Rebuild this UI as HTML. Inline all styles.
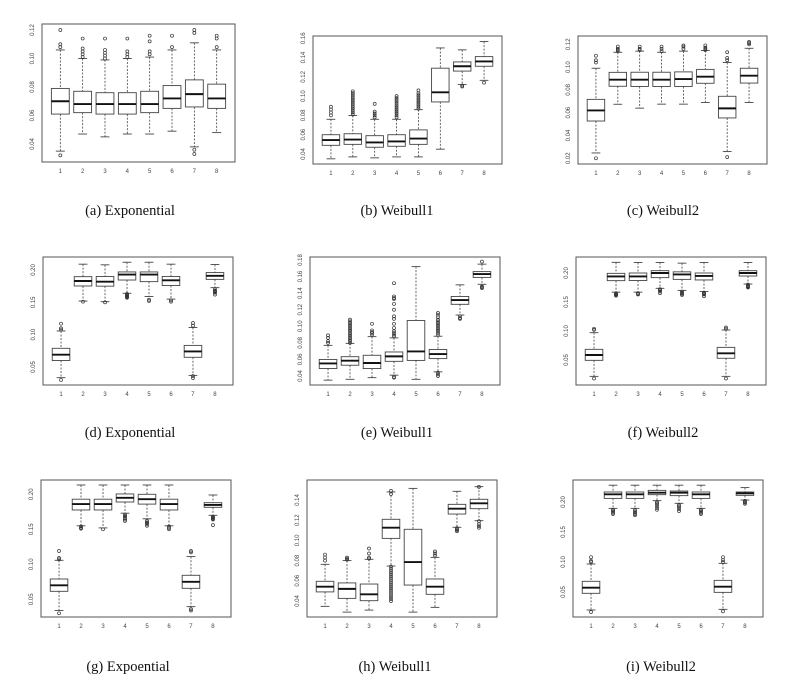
<!DOCTYPE html>
<html><head><meta charset="utf-8">
<style>
html,body{margin:0;padding:0;background:#fff;}
svg{display:block;}
.tick{font-family:"Liberation Sans",sans-serif;font-size:6px;fill:#444;}
.cap{font-family:"Liberation Serif",serif;font-size:14.5px;fill:#111;}
</style></head>
<body>
<svg id="fig" width="796" height="679" viewBox="0 0 796 679" xmlns="http://www.w3.org/2000/svg"></svg>
<script>
const categories = ["1","2","3","4","5","6","7","8"];
// each box: [whiskerLow, q1, median, q3, whiskerHigh]
const aStats = [[0.035,0.061,0.070,0.079,0.106],[0.047,0.062,0.068,0.077,0.100],[0.045,0.061,0.068,0.076,0.099],[0.047,0.061,0.068,0.076,0.100],[0.047,0.062,0.068,0.077,0.101],[0.049,0.065,0.072,0.081,0.106],[0.038,0.066,0.075,0.085,0.111],[0.048,0.065,0.072,0.082,0.106]];
const aOut = [[0.032,0.108,0.110,0.120],[0.101,0.103,0.105,0.107,0.114],[0.100,0.102,0.104,0.106,0.114],[0.101,0.103,0.105,0.114],[0.103,0.105,0.112,0.116],[0.108,0.116],[0.033,0.036,0.118,0.120],[0.108,0.114,0.116]];
const aTicks = [0.04,0.06,0.08,0.10,0.12];

const bStats = [[0.035,0.049,0.0545,0.060,0.076],[0.037,0.050,0.055,0.061,0.080],[0.036,0.047,0.052,0.059,0.076],[0.037,0.048,0.053,0.060,0.076],[0.037,0.050,0.056,0.065,0.086],[0.045,0.094,0.104,0.129,0.150],[0.112,0.126,0.131,0.1355,0.148],[0.1164,0.131,0.136,0.141,0.1566]];
const bOut = [[0.080,0.083,0.086,0.089],[0.081,0.083,0.085,0.087,0.089,0.091,0.093,0.095,0.097,0.099,0.101,0.103,0.105],[0.078,0.080,0.082,0.084,0.092],[0.078,0.080,0.082,0.084,0.086,0.088,0.090,0.092,0.094,0.096,0.098,0.100],[0.087,0.089,0.091,0.093,0.095,0.097,0.099,0.101,0.103,0.106],[],[0.110,0.111],[0.114]];
const bTicks = [0.04,0.06,0.08,0.10,0.12,0.14,0.16];

const cStats = [[0.0247,0.0527,0.062,0.0717,0.099],[0.0674,0.0832,0.089,0.0954,0.113],[0.064,0.083,0.089,0.0955,0.114],[0.0675,0.083,0.089,0.0955,0.113],[0.0675,0.083,0.0895,0.0958,0.114],[0.069,0.0858,0.0916,0.098,0.1145],[0.0259,0.0554,0.0638,0.0744,0.104],[0.069,0.086,0.0925,0.099,0.1165]];
const cOut = [[0.020,0.104,0.106,0.110],[0.114,0.115,0.116,0.118],[0.115,0.116,0.118],[0.114,0.116,0.118],[0.116,0.118,0.119],[0.115,0.116,0.117,0.119],[0.021,0.106,0.108,0.113],[0.120,0.121,0.122]];
const cTicks = [0.02,0.04,0.06,0.08,0.10,0.12];

const dStats = [[0.0335,0.060,0.069,0.0789,0.1057],[0.152,0.1753,0.183,0.1897,0.209],[0.151,0.175,0.182,0.190,0.208],[0.164,0.1845,0.193,0.197,0.212],[0.159,0.182,0.193,0.197,0.212],[0.155,0.176,0.184,0.190,0.209],[0.037,0.065,0.074,0.0834,0.111],[0.1727,0.1855,0.191,0.196,0.2085]];
const dOut = [[0.030,0.108,0.110,0.117],[0.151],[0.150],[0.157,0.158,0.159,0.160,0.161,0.162,0.163],[0.152,0.154],[0.151,0.153],[0.033,0.036,0.114,0.118],[0.162,0.165,0.166,0.167,0.168,0.170]];
const dTicks = [0.05,0.10,0.15,0.20];

const eStats = [[0.035,0.049,0.0552,0.060,0.077],[0.036,0.053,0.0585,0.0633,0.0794],[0.038,0.049,0.0557,0.065,0.0875],[0.041,0.0577,0.0637,0.069,0.086],[0.036,0.0588,0.0697,0.107,0.172],[0.045,0.061,0.0665,0.072,0.088],[0.1136,0.1265,0.1317,0.136,0.150],[0.1507,0.159,0.163,0.166,0.175]];
const eOut = [[0.080,0.082,0.086,0.089],[0.080,0.082,0.084,0.086,0.088,0.090,0.092,0.094,0.096,0.098,0.100,0.102,0.104,0.106,0.108],[0.090,0.092,0.093,0.095,0.103],[0.038,0.039,0.088,0.090,0.092,0.094,0.098,0.103,0.109,0.112,0.120,0.127,0.133,0.134,0.136,0.152],[],[0.040,0.042,0.044,0.090,0.092,0.094,0.096,0.098,0.100,0.102,0.104,0.106,0.108,0.111,0.114,0.116],[0.109,0.110,0.112],[0.146,0.147,0.148,0.178]];
const eTicks = [0.04,0.06,0.08,0.10,0.12,0.14,0.16,0.18];

const fStats = [[0.0218,0.0494,0.0586,0.0684,0.0971],[0.167,0.1868,0.194,0.1994,0.2184],[0.167,0.187,0.194,0.200,0.218],[0.1736,0.192,0.200,0.204,0.218],[0.170,0.189,0.1975,0.202,0.217],[0.168,0.188,0.195,0.200,0.218],[0.0218,0.053,0.0615,0.0718,0.1017],[0.181,0.1948,0.200,0.204,0.218]];
const fOut = [[0.018,0.102,0.104],[0.161,0.162,0.163,0.164,0.165],[0.163,0.164,0.165],[0.165,0.168,0.170,0.171,0.172],[0.162,0.164,0.165,0.166,0.168],[0.160,0.163,0.164,0.165,0.166],[0.018,0.104,0.106],[0.175,0.176,0.177,0.178,0.180]];
const fTicks = [0.05,0.10,0.15,0.20];

const gStats = [[0.034,0.0614,0.070,0.079,0.1057],[0.155,0.1776,0.186,0.193,0.2133],[0.152,0.1776,0.186,0.193,0.2133],[0.173,0.189,0.195,0.2005,0.2133],[0.165,0.186,0.193,0.200,0.2133],[0.155,0.1776,0.186,0.193,0.2133],[0.0395,0.0657,0.075,0.0843,0.111],[0.170,0.1814,0.1848,0.188,0.199]];
const gOut = [[0.030,0.107,0.109,0.119],[0.151,0.152,0.154],[0.150],[0.162,0.164,0.166,0.168,0.169,0.171],[0.155,0.157,0.159,0.160,0.162],[0.150,0.152,0.154],[0.034,0.036,0.117,0.119],[0.156,0.164,0.165,0.166,0.167,0.168]];
const gTicks = [0.05,0.10,0.15,0.20];

const hStats = [[0.0347,0.049,0.0542,0.0595,0.0763],[0.029,0.0426,0.052,0.0579,0.080],[0.031,0.0403,0.0466,0.0568,0.0813],[0.0746,0.102,0.1126,0.1209,0.148],[0.029,0.0558,0.0786,0.111,0.1515],[0.0337,0.0466,0.0542,0.0618,0.0832],[0.113,0.1261,0.1314,0.1357,0.1486],[0.1195,0.1314,0.1367,0.1407,0.1532]];
const hOut = [[0.080,0.083,0.086],[0.081,0.082,0.083],[0.082,0.083,0.087,0.092],[0.040,0.042,0.044,0.046,0.048,0.050,0.052,0.054,0.056,0.058,0.060,0.062,0.064,0.066,0.068,0.070,0.072,0.074,0.146,0.149],[],[0.085,0.087,0.089],[0.109,0.110,0.111,0.112],[0.1125,0.114,0.116,0.119,0.153]];
const hTicks = [0.04,0.06,0.08,0.10,0.12,0.14];

const iStats = [[0.020,0.0478,0.0572,0.0678,0.0967],[0.1894,0.206,0.2128,0.2167,0.228],[0.1894,0.206,0.2128,0.2167,0.228],[0.2022,0.2122,0.2156,0.2194,0.228],[0.1978,0.2106,0.2156,0.2183,0.228],[0.1894,0.206,0.2128,0.2167,0.228],[0.0211,0.0494,0.0589,0.0694,0.0978],[0.2033,0.2111,0.2144,0.2167,0.224]];
const iOut = [[0.0167,0.100,0.102,0.108],[0.180,0.182,0.184,0.186,0.187],[0.178,0.180,0.182,0.184,0.186],[0.187,0.190,0.193,0.196,0.198,0.200],[0.185,0.188,0.191,0.193,0.195],[0.180,0.182,0.184,0.186,0.187],[0.0178,0.100,0.103,0.108],[0.197,0.199,0.200,0.202]];
const iTicks = [0.05,0.10,0.15,0.20];

const captions = ["(a)  Exponential","(b)  Weibull1","(c)  Weibull2","(d)  Exponential","(e)  Weibull1","(f)  Weibull2","(g)  Expoential","(h)  Weibull1","(i)  Weibull2"];

// layout: frame box + two tick calibration points (value -> pixel)
const panels = [
 {id:"a",stats:aStats,out:aOut,ticks:aTicks,x0:42,x1:235,y0:24,y1:162,v0:0.12,p0:30,v1:0.04,p1:144,fmt:2,cx:130,cy:210},
 {id:"b",stats:bStats,out:bOut,ticks:bTicks,x0:313,x1:502,y0:36,y1:164,v0:0.16,p0:38.3,v1:0.04,p1:154,fmt:2,cx:397,cy:210},
 {id:"c",stats:cStats,out:cOut,ticks:cTicks,x0:578,x1:767,y0:36,y1:164,v0:0.12,p0:44.3,v1:0.02,p1:158.3,fmt:2,cx:663,cy:210},
 {id:"d",stats:dStats,out:dOut,ticks:dTicks,x0:43,x1:233,y0:257,y1:385,v0:0.20,p0:270,v1:0.05,p1:367,fmt:2,cx:130,cy:432},
 {id:"e",stats:eStats,out:eOut,ticks:eTicks,x0:310,x1:500,y0:257,y1:385,v0:0.18,p0:260,v1:0.04,p1:376,fmt:2,cx:397,cy:432},
 {id:"f",stats:fStats,out:fOut,ticks:fTicks,x0:576,x1:766,y0:257,y1:385,v0:0.20,p0:273,v1:0.05,p1:360,fmt:2,cx:663,cy:432},
 {id:"g",stats:gStats,out:gOut,ticks:gTicks,x0:41,x1:231,y0:480,y1:617,v0:0.20,p0:494.3,v1:0.05,p1:599.3,fmt:2,cx:128,cy:666},
 {id:"h",stats:hStats,out:hOut,ticks:hTicks,x0:307,x1:497,y0:480,y1:617,v0:0.14,p0:500,v1:0.04,p1:601,fmt:2,cx:395,cy:666},
 {id:"i",stats:iStats,out:iOut,ticks:iTicks,x0:573,x1:763,y0:480,y1:617,v0:0.20,p0:502,v1:0.05,p1:592,fmt:2,cx:661,cy:666}
];

const NS = "http://www.w3.org/2000/svg";
const svg = document.getElementById("fig");
function mk(tag, attrs, parent){
  const e = document.createElementNS(NS, tag);
  for (const k in attrs) e.setAttribute(k, attrs[k]);
  parent.appendChild(e);
  return e;
}

panels.forEach((p, pi) => {
  const g = mk("g", {}, svg);
  
  
  const yS = v => p.p0 + (v - p.v0) * (p.p1 - p.p0) / (p.v1 - p.v0);
  const unit = (p.x1 - p.x0) / 8.64;
  const xS = i => p.x0 + (i + 1 - 0.18) * unit;
  const bw = 0.8 * unit;

  const frame = mk("rect", {x:p.x0, y:p.y0, width:p.x1-p.x0, height:p.y1-p.y0, fill:"none", stroke:"#555", "stroke-width":1}, g);
  
  

  p.ticks.forEach(t => {
    const y = yS(t);
    const tx = p.x0 - 8;
    const lab = mk("text", {x:tx, y:y, class:"tick", "text-anchor":"middle", transform:"rotate(-90 "+tx+" "+y+")"}, g);
    lab.textContent = t.toFixed(p.fmt);
    
    
  });

  categories.forEach((c, i) => {
    const lab = mk("text", {x:xS(i), y:p.y1 + 11, class:"tick", "text-anchor":"middle"}, g);
    lab.textContent = c;
    
    
  });

  p.stats.forEach((s, i) => {
    const cx = xS(i);
    const bg = mk("g", {}, g);
    
    
    const [lo, q1, md, q3, hi] = s;
    mk("line", {x1:cx, x2:cx, y1:yS(hi), y2:yS(q3), stroke:"#444", "stroke-width":0.8, "stroke-dasharray":"2,1.5"}, bg);
    mk("line", {x1:cx, x2:cx, y1:yS(q1), y2:yS(lo), stroke:"#444", "stroke-width":0.8, "stroke-dasharray":"2,1.5"}, bg);
    mk("line", {x1:cx-bw/4, x2:cx+bw/4, y1:yS(hi), y2:yS(hi), stroke:"#444", "stroke-width":0.9}, bg);
    mk("line", {x1:cx-bw/4, x2:cx+bw/4, y1:yS(lo), y2:yS(lo), stroke:"#444", "stroke-width":0.9}, bg);
    mk("rect", {x:cx-bw/2, y:yS(q3), width:bw, height:yS(q1)-yS(q3), fill:"#fff", stroke:"#444", "stroke-width":0.9}, bg);
    mk("line", {x1:cx-bw/2, x2:cx+bw/2, y1:yS(md), y2:yS(md), stroke:"#111", "stroke-width":1.9}, bg);
    p.out[i].forEach(o => {
      const c = mk("circle", {cx:cx, cy:yS(o), r:1.5, fill:"none", stroke:"#333", "stroke-width":0.7}, bg);
      
      
    });
  });

  const cap = mk("text", {x:p.cx, y:p.cy + 5, class:"cap", "text-anchor":"middle"}, g);
  cap.textContent = captions[pi];
  
  
});
</script>
</body></html>
